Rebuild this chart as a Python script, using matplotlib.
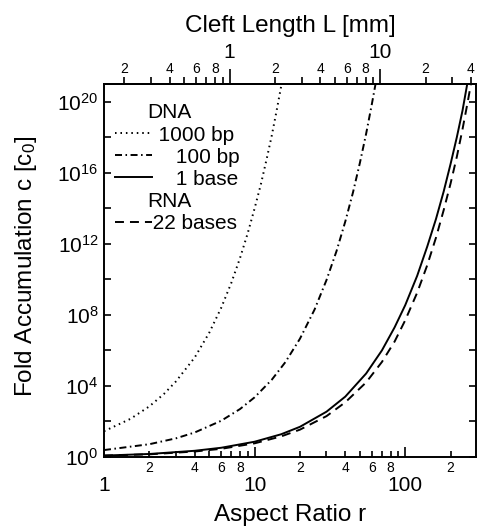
import numpy as np
import matplotlib.pyplot as plt
from matplotlib.lines import Line2D
from matplotlib.ticker import FixedLocator, FuncFormatter, NullLocator

plt.rcParams['font.family'] = ['Liberation Sans', 'DejaVu Sans']
plt.rcParams['mathtext.fontset'] = 'custom'
plt.rcParams['mathtext.rm'] = 'Liberation Sans'
plt.rcParams['mathtext.it'] = 'Liberation Sans:italic'

# aspect ratio r and log10 of fold accumulation
r_1000bp = [1, 1.5, 2, 2.5, 3, 4, 5, 6, 7, 8, 9, 10, 11, 12, 13, 14, 15.1]
logc_1000bp = [1.45, 2.15, 2.85, 3.55, 4.25, 5.6, 7.0, 8.4, 9.8, 11.2, 12.6, 14.0, 15.35, 16.75, 18.1, 19.5, 21.0]

r_100bp = [1, 2, 3, 4, 6, 8, 10, 13, 16, 20, 25, 30, 35, 40, 45, 50, 55, 60, 63.5]
logc_100bp = [0.39, 0.72, 1.05, 1.38, 2.04, 2.7, 3.36, 4.35, 5.34, 6.66, 8.3, 9.96, 11.6, 13.26, 14.9, 16.56, 18.2, 19.86, 21.0]

r_1base = [1, 2, 4, 6, 10, 15, 20, 30, 40, 55, 70, 85, 100, 120, 140, 160, 180, 200, 220, 240, 258]
logc_1base = [0.08, 0.17, 0.35, 0.52, 0.86, 1.28, 1.7, 2.55, 3.4, 4.7, 6.0, 7.3, 8.55, 10.2, 11.85, 13.4, 14.95, 16.5, 18.0, 19.5, 21.0]

r_22bases = [1, 2, 4, 6, 10, 15, 20, 30, 40, 55, 70, 85, 100, 120, 140, 160, 180, 200, 220, 240, 260, 273]
logc_22bases = [0.08, 0.15, 0.31, 0.46, 0.77, 1.16, 1.54, 2.3, 3.08, 4.2, 5.35, 6.5, 7.7, 9.25, 10.8, 12.35, 13.9, 15.4, 16.9, 18.45, 20.0, 21.0]

mm_per_r = 0.1465  # cleft length per unit aspect ratio

fig = plt.figure(figsize=(4.78, 5.27), dpi=100)
ax = fig.add_axes([104 / 478, 1 - 457 / 527, 372 / 478, 373 / 527])

lw = 1.4
l1, = ax.plot(r_1000bp, 10 ** np.array(logc_1000bp), color='black', lw=lw, linestyle=(0, (0.8, 2.0)))
l2, = ax.plot(r_100bp, 10 ** np.array(logc_100bp), color='black', lw=lw, linestyle=(0, (3.6, 1.8, 0.8, 1.8)))
l3, = ax.plot(r_1base, 10 ** np.array(logc_1base), color='black', lw=lw, linestyle='-')
l4, = ax.plot(r_22bases, 10 ** np.array(logc_22bases), color='black', lw=lw, linestyle=(0, (4.6, 3.1)))

ax.set_xscale('log')
ax.set_yscale('log')
ax.set_xlim(1, 295)
ax.set_ylim(1, 1e21)

for s in ax.spines.values():
    s.set_linewidth(1.4)


def minor_label(v, pos):
    m = int(round(v / 10 ** np.floor(np.log10(v) + 1e-9)))
    return str(m) if m in (2, 4, 6, 8) else ''


ax.xaxis.set_major_locator(FixedLocator([1, 10, 100]))
ax.xaxis.set_major_formatter(FuncFormatter(lambda v, p: f'{v:g}'))
ax.xaxis.set_minor_locator(FixedLocator([m * 10 ** e for e in range(3) for m in range(2, 10)
                                         if m * 10 ** e < 295]))
ax.xaxis.set_minor_formatter(FuncFormatter(minor_label))
ax.tick_params(axis='x', which='major', direction='in', length=7, width=1.2,
               labelsize=15, pad=13.5, top=False)
ax.tick_params(axis='x', which='minor', direction='in', length=4, width=1.2,
               labelsize=10, pad=3, top=False)

ax.yaxis.set_major_locator(FixedLocator([10.0 ** e for e in range(0, 21, 2)]))
ax.yaxis.set_major_formatter(FuncFormatter(
    lambda v, p: rf'$\mathregular{{10^{{{int(round(np.log10(v)))}}}}}$'
    if int(round(np.log10(v))) % 4 == 0 else ''))
ax.yaxis.set_minor_locator(NullLocator())
ax.tick_params(axis='y', which='major', direction='in', length=5, width=1.2,
               left=True, right=True, labelsize=15, pad=4)

ax.set_xlabel('Aspect Ratio r', fontsize=17.5, labelpad=7)
ax.set_ylabel(r'Fold Accumulation c [c$_\mathregular{0}$]', fontsize=17.5)
ax.yaxis.set_label_coords(-0.175, 0.51)

secax = ax.secondary_xaxis('top', functions=(lambda r: r * mm_per_r, lambda L: L / mm_per_r))
secax.xaxis.set_major_locator(FixedLocator([1, 10]))
secax.xaxis.set_major_formatter(FuncFormatter(lambda v, p: f'{v:g}'))
secax.xaxis.set_minor_locator(FixedLocator([m * 10.0 ** e for e in range(-1, 2) for m in range(2, 10)
                                            if m * 10.0 ** e <= 40]))
secax.xaxis.set_minor_formatter(FuncFormatter(minor_label))
secax.tick_params(which='major', direction='out', length=10.5, width=1.2, labelsize=15, pad=5)
secax.tick_params(which='minor', direction='out', length=5, width=1.2, labelsize=10, pad=1)
secax.spines['top'].set_linewidth(1.4)
secax.set_xlabel('Cleft Length L [mm]', fontsize=17.5, labelpad=8)

blank = Line2D([], [], linestyle='none')
ax.legend([blank, l1, l2, l3, blank, l4],
          ['DNA', '  1000 bp', '     100 bp', '     1 base', 'RNA', ' 22 bases'],
          loc='upper left', bbox_to_anchor=(0.0295, 0.948), frameon=False,
          fontsize=15, handlelength=1.78, handletextpad=-0.25, labelspacing=0.15,
          borderpad=0, borderaxespad=0)

fig.savefig('out.png', dpi=100)
